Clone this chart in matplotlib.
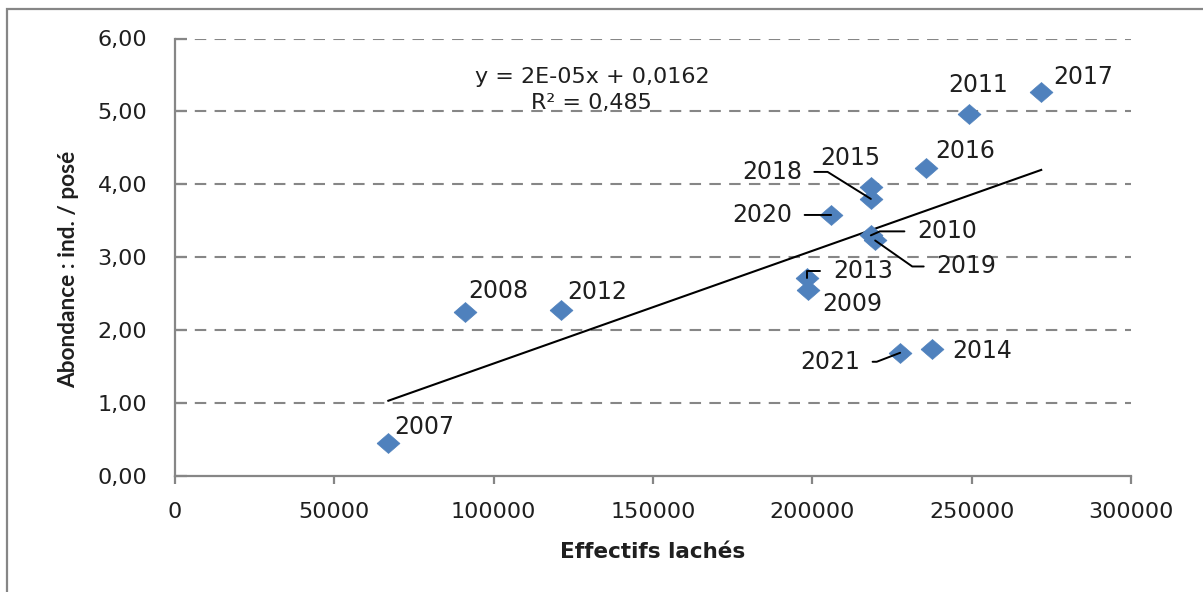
import numpy as np
import matplotlib
matplotlib.use('Agg')
import matplotlib.pyplot as plt
from matplotlib.patches import Rectangle

# data
years = ['2007', '2008', '2009', '2010', '2011', '2012', '2013', '2014',
         '2015', '2016', '2017', '2018', '2019', '2020', '2021']
effectifs = [66950, 91020, 198680, 218360, 249210, 121060, 198270, 237700,
             218360, 235720, 271820, 218360, 219710, 205900, 227560]
abondance = [0.45, 2.25, 2.55, 3.30, 4.96, 2.28, 2.71, 1.74,
             3.96, 4.22, 5.27, 3.80, 3.23, 3.58, 1.69]

equation_text = 'y = 2E-05x + 0,0162\nR\u00b2 = 0,485'
x_ticks = [0, 50000, 100000, 150000, 200000, 250000, 300000]
y_ticks = [0, 1, 2, 3, 4, 5, 6]

# label offsets in pixels (dx, dy) and leader line style per year
label_pos = {
    '2007': (36, 16, None),
    '2008': (33, 21, None),
    '2009': (44, -14, None),
    '2010': (76, 4, 'angle,angleA=0,angleB=24,rad=0'),
    '2011': (9, 29, None),
    '2012': (36, 18, None),
    '2013': (56, 7, 'angle,angleA=0,angleB=90,rad=0'),
    '2014': (50, -2, None),
    '2015': (-21, 29, None),
    '2016': (39, 17, None),
    '2017': (42, 15, None),
    '2018': (-99, 27, 'angle,angleA=0,angleB=-32,rad=0'),
    '2019': (91, -26, 'angle,angleA=0,angleB=-35,rad=0'),
    '2020': (-69, 0, 'arc3,rad=0'),
    '2021': (-70, -9, 'angle,angleA=0,angleB=21,rad=0'),
}

grey = '#868686'
text_col = '#1f1f1f'

# excel-like diamond, a bit wider than tall
diamond = [(-1.15, 0), (0, 1), (1.15, 0), (0, -1), (-1.15, 0)]

fig = plt.figure(figsize=(12.03, 5.92), dpi=100)
ax = fig.add_axes([175 / 1203, 1 - 476 / 592, 956 / 1203, 437.5 / 592])

# outer chart border (only left and top visible)
fig.add_artist(Rectangle((7 / 1203, -0.1), 1.2, 1.1 - 9 / 592, transform=fig.transFigure,
                         fill=False, edgecolor=grey, linewidth=1.6))

for yv in y_ticks[1:]:
    ax.axhline(yv, color=grey, linewidth=1.5, linestyle=(0, (5.5, 4)), zorder=1)

# linear trend line
coef = np.polyfit(effectifs, abondance, 1)
xs = np.array([min(effectifs), max(effectifs)])
ax.plot(xs, np.polyval(coef, xs), color='black', linewidth=1.5, zorder=2)

ax.plot(effectifs, abondance, linestyle='none', marker=diamond, markersize=16.5,
        color='#4F81BD', markeredgecolor='#4F81BD', markeredgewidth=0.5, zorder=3)

for yr, xv, yv in zip(years, effectifs, abondance):
    dx, dy, conn = label_pos[yr]
    kw = {}
    if conn is not None:
        relx = 1 if dx < 0 else 0
        kw['arrowprops'] = dict(arrowstyle='-', color='black', linewidth=1.4,
                                connectionstyle=conn, relpos=(relx, 0.5),
                                shrinkA=7, shrinkB=0)
    ax.annotate(yr, (xv, yv), xytext=(dx, dy), textcoords='offset pixels',
                ha='center', va='center', fontsize=17, color=text_col,
                zorder=4, **kw)

ax.text(0.436, 0.882, equation_text, transform=ax.transAxes, ha='center', va='center',
        fontsize=16, color=text_col, linespacing=1.42)

ax.set_xlim(0, 300000)
ax.set_ylim(0, 6)
ax.set_xticks(x_ticks)
ax.set_xticklabels([str(v) for v in x_ticks])
ax.set_yticks(y_ticks)
ax.set_yticklabels(['{:.2f}'.format(v).replace('.', ',') for v in y_ticks])

for side in ['top', 'right']:
    ax.spines[side].set_visible(False)
for side in ['left', 'bottom']:
    ax.spines[side].set_color(grey)
    ax.spines[side].set_linewidth(1.6)

ax.tick_params(axis='x', direction='out', length=6, width=1.6, color=grey,
               labelsize=16, labelcolor=text_col, pad=13)
ax.tick_params(axis='y', direction='in', length=8.5, width=1.6, color=grey,
               labelsize=16, labelcolor=text_col, pad=20)

ax.set_xlabel('Effectifs lachés', fontsize=15.5, fontweight='bold', color=text_col)
ax.set_ylabel('Abondance : ind. / posé', fontsize=16.3, fontweight='bold', color=text_col,
              family='Lato')
ax.xaxis.set_label_coords(0.5, -0.152)
ax.yaxis.set_label_coords(-0.1, 0.473)

fig.savefig('out.png', dpi=100)
